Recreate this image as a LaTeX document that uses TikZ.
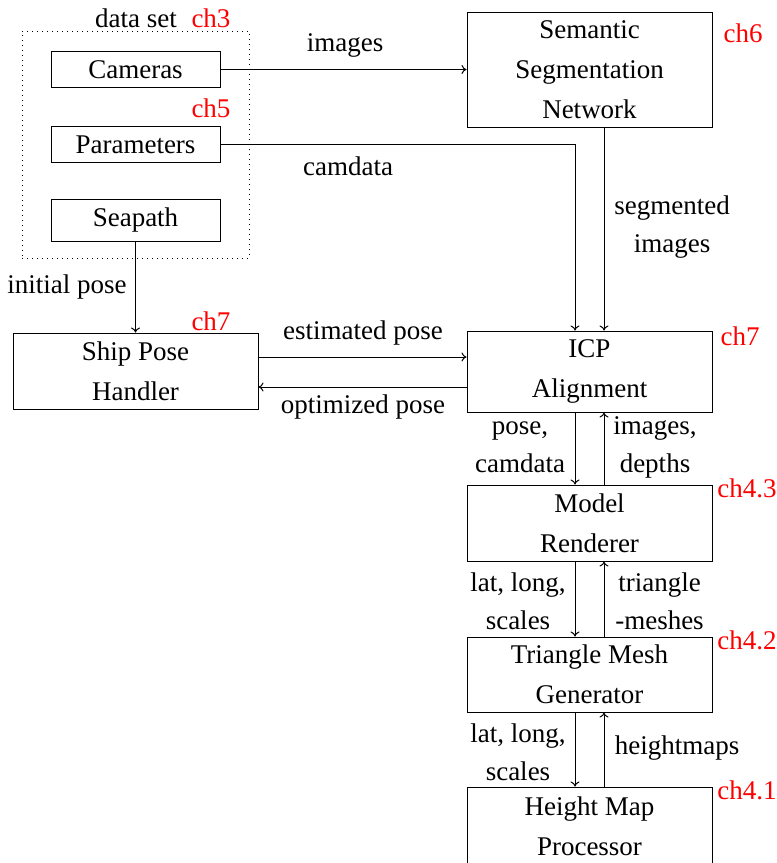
\documentclass[tikz,border=0pt]{standalone}
\usepackage{fontspec}
\setmainfont{Liberation Serif}
\usetikzlibrary{arrows.meta,calc}
\begin{document}
\begin{tikzpicture}[x=1pt,y=-1pt,
  box/.style={draw, line width=1pt, inner sep=0pt, align=center, font=\fontsize{27}{40}\selectfont},
  lbl/.style={inner sep=0pt, align=center, font=\fontsize{27}{38}\selectfont},
  chap/.style={inner sep=0pt, text=red, font=\fontsize{27}{32}\selectfont},
  arr/.style={line width=1pt, -{To[length=5pt,width=9pt]}},
  dotbox/.style={draw, line width=1pt, dash pattern=on 1pt off 4pt, inner sep=0pt}]
\useasboundingbox (0,0) rectangle (777,863);
% data set group
\node[dotbox, minimum width=227pt, minimum height=227pt] (ds) at (135.5,144.5) {};
\node[box, minimum width=169pt, minimum height=36pt] (cam) at (135.5,69.5) {Cameras};
\node[box, minimum width=169pt, minimum height=36pt] (par) at (135.5,144.5) {Parameters};
\node[box, minimum width=169pt, minimum height=42pt] (sea) at (135.5,220) {Seapath};
% main boxes
\node[box, minimum width=245pt, minimum height=115pt] (ssn) at (589.5,69.5) {Semantic\\Segmentation\\Network};
\node[box, minimum width=245pt, minimum height=76pt] (sph) at (135.5,371) {Ship Pose\\Handler};
\node[box, minimum width=245pt, minimum height=81pt] (icp) at (589.5,371.5) {ICP\\Alignment};
\node[box, minimum width=245pt, minimum height=76pt] (mr) at (589.5,523) {Model\\Renderer};
\node[box, minimum width=245pt, minimum height=75pt] (tmg) at (589.5,674.5) {Triangle Mesh\\Generator};
\node[box, minimum width=245pt, minimum height=79pt] (hmp) at (589.5,826.5) {Height Map\\Processor};
% chapter labels
\node[lbl] (dslbl) at (136,18) {data set};
\node[chap] (c3) at (211,18) {ch3};
\node[chap] (c5) at (211,108) {ch5};
\node[chap] (c6) at (743,33) {ch6};
\node[chap] (c7a) at (211,321) {ch7};
\node[chap] (c7b) at (740,336) {ch7};
\node[chap] (c43) at (747,488) {ch4.3};
\node[chap] (c42) at (747,640) {ch4.2};
\node[chap] (c41) at (747,790) {ch4.1};
% connectors
\draw[arr] (cam) -- (ssn);
\draw[arr] (par.east) -| ([xshift=-14.5pt]icp.north);
\draw[arr] ([xshift=14.5pt]ssn.south) -- ([xshift=14.5pt]icp.north);
\draw[arr] (sea) -- (sph);
\draw[arr] ([yshift=14pt]sph.east) -- ([yshift=14pt]sph.east -| icp.west);
\draw[arr] ([yshift=-16pt]sph.east -| icp.west) -- ([yshift=-16pt]sph.east);
\draw[arr] ([xshift=-14.5pt]icp.south) -- ([xshift=-14.5pt]mr.north);
\draw[arr] ([xshift=14.5pt]mr.north) -- ([xshift=14.5pt]icp.south);
\draw[arr] ([xshift=-14.5pt]mr.south) -- ([xshift=-14.5pt]tmg.north);
\draw[arr] ([xshift=14.5pt]tmg.north) -- ([xshift=14.5pt]mr.south);
\draw[arr] ([xshift=-14.5pt]tmg.south) -- ([xshift=-14.5pt]hmp.north);
\draw[arr] ([xshift=14.5pt]hmp.north) -- ([xshift=14.5pt]tmg.south);
% edge labels
\node[lbl] (limg) at (345,45) {images};
\node[lbl] (lcam) at (348,166) {camdata};
\node[lbl] (lseg) at (672,227) {segmented\\images};
\node[lbl] (lini) at (67,287) {initial pose};
\node[lbl] (lest) at (363,333) {estimated pose};
\node[lbl] (lopt) at (363,407) {optimized pose};
\node[lbl] (lpc) at (520,447) {pose,\\camdata};
\node[lbl] (lid) at (655,447) {images,\\depths};
\node[lbl] (lll1) at (518,601) {lat, long,\\scales};
\node[lbl] (ltri) at (659.5,601) {triangle\\-meshes};
\node[lbl] (lll2) at (518,752) {lat, long,\\scales};
\node[lbl] (lhm) at (677,748) {heightmaps};
\end{tikzpicture}
\end{document}
